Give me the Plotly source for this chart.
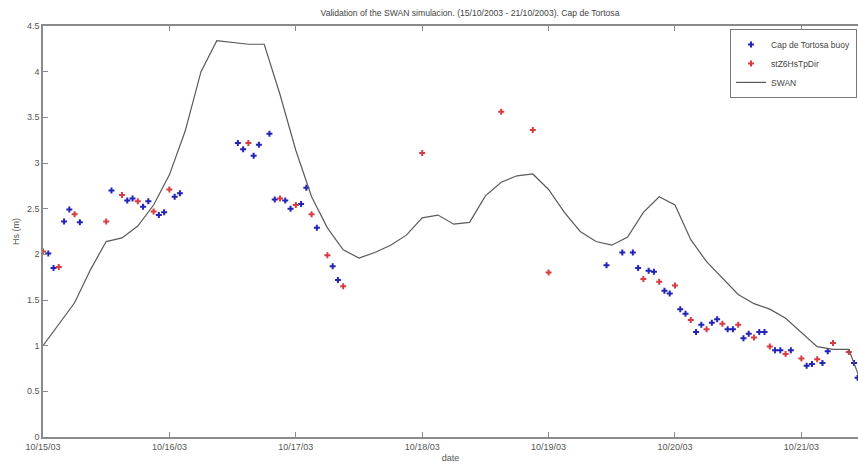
import plotly.graph_objects as go

# ---- data ----
buoy_time = [
    "2003-10-15 01:00", "2003-10-15 02:00", "2003-10-15 04:00", "2003-10-15 05:00", "2003-10-15 07:00",
    "2003-10-15 13:00", "2003-10-15 16:00", "2003-10-15 17:00", "2003-10-15 19:00", "2003-10-15 20:00",
    "2003-10-15 22:00", "2003-10-15 23:00", "2003-10-16 01:00", "2003-10-16 02:00",
    "2003-10-16 13:00", "2003-10-16 14:00", "2003-10-16 16:00", "2003-10-16 17:00", "2003-10-16 19:00",
    "2003-10-16 20:00", "2003-10-16 22:00", "2003-10-16 23:00", "2003-10-17 01:00", "2003-10-17 02:00",
    "2003-10-17 04:00", "2003-10-17 07:00", "2003-10-17 08:00",
    "2003-10-19 11:00", "2003-10-19 14:00", "2003-10-19 16:00", "2003-10-19 17:00", "2003-10-19 19:00",
    "2003-10-19 20:00", "2003-10-19 22:00", "2003-10-19 23:00", "2003-10-20 01:00", "2003-10-20 02:00",
    "2003-10-20 04:00", "2003-10-20 05:00", "2003-10-20 07:00", "2003-10-20 08:00", "2003-10-20 10:00",
    "2003-10-20 11:00", "2003-10-20 13:00", "2003-10-20 14:00", "2003-10-20 16:00", "2003-10-20 17:00",
    "2003-10-20 19:00", "2003-10-20 20:00", "2003-10-20 22:00", "2003-10-21 01:00", "2003-10-21 02:00",
    "2003-10-21 04:00", "2003-10-21 05:00", "2003-10-21 10:00", "2003-10-21 10:40",
]
buoy_hs = [
    2.01, 1.85, 2.36, 2.49, 2.35,
    2.70, 2.59, 2.61, 2.52, 2.58,
    2.43, 2.46, 2.63, 2.67,
    3.22, 3.15, 3.08, 3.20, 3.32,
    2.60, 2.59, 2.50, 2.55, 2.73,
    2.29, 1.87, 1.72,
    1.88, 2.02, 2.02, 1.85, 1.82,
    1.81, 1.60, 1.57, 1.40, 1.35,
    1.15, 1.23, 1.25, 1.29, 1.18,
    1.18, 1.08, 1.13, 1.15, 1.15,
    0.95, 0.95, 0.95, 0.78, 0.80,
    0.81, 0.94, 0.81, 0.65,
]

st_time = [
    "2003-10-15 00:00", "2003-10-15 03:00", "2003-10-15 06:00", "2003-10-15 12:00", "2003-10-15 15:00",
    "2003-10-15 18:00", "2003-10-15 21:00", "2003-10-16 00:00", "2003-10-16 15:00", "2003-10-16 21:00",
    "2003-10-17 00:00", "2003-10-17 03:00", "2003-10-17 06:00", "2003-10-17 09:00", "2003-10-18 00:00",
    "2003-10-18 15:00", "2003-10-18 21:00", "2003-10-19 00:00", "2003-10-19 18:00", "2003-10-19 21:00",
    "2003-10-20 00:00", "2003-10-20 03:00", "2003-10-20 06:00", "2003-10-20 09:00", "2003-10-20 12:00",
    "2003-10-20 15:00", "2003-10-20 18:00", "2003-10-20 21:00", "2003-10-21 00:00", "2003-10-21 03:00",
    "2003-10-21 06:00", "2003-10-21 09:00",
]
st_hs = [
    2.03, 1.86, 2.44, 2.36, 2.65,
    2.58, 2.47, 2.71, 3.22, 2.61,
    2.54, 2.44, 1.99, 1.65, 3.11,
    3.56, 3.36, 1.80, 1.73, 1.70,
    1.66, 1.28, 1.18, 1.24, 1.23,
    1.09, 0.99, 0.91, 0.86, 0.85,
    1.03, 0.93,
]

swan_time = [
    "2003-10-15 00:00", "2003-10-15 03:00", "2003-10-15 06:00", "2003-10-15 09:00", "2003-10-15 12:00",
    "2003-10-15 15:00", "2003-10-15 18:00", "2003-10-15 21:00", "2003-10-16 00:00", "2003-10-16 03:00",
    "2003-10-16 06:00", "2003-10-16 09:00", "2003-10-16 12:00", "2003-10-16 15:00", "2003-10-16 18:00",
    "2003-10-16 21:00", "2003-10-17 00:00", "2003-10-17 03:00", "2003-10-17 06:00", "2003-10-17 09:00",
    "2003-10-17 12:00", "2003-10-17 15:00", "2003-10-17 18:00", "2003-10-17 21:00", "2003-10-18 00:00",
    "2003-10-18 03:00", "2003-10-18 06:00", "2003-10-18 09:00", "2003-10-18 12:00", "2003-10-18 15:00",
    "2003-10-18 18:00", "2003-10-18 21:00", "2003-10-19 00:00", "2003-10-19 03:00", "2003-10-19 06:00",
    "2003-10-19 09:00", "2003-10-19 12:00", "2003-10-19 15:00", "2003-10-19 18:00", "2003-10-19 21:00",
    "2003-10-20 00:00", "2003-10-20 03:00", "2003-10-20 06:00", "2003-10-20 09:00", "2003-10-20 12:00",
    "2003-10-20 15:00", "2003-10-20 18:00", "2003-10-20 21:00", "2003-10-21 00:00", "2003-10-21 03:00",
    "2003-10-21 06:00", "2003-10-21 09:00", "2003-10-21 12:00",
]
swan_hs = [
    1.00, 1.23, 1.47, 1.83, 2.14,
    2.18, 2.31, 2.54, 2.87, 3.35,
    4.00, 4.34, 4.32, 4.30, 4.30,
    3.75, 3.14, 2.63, 2.29, 2.05,
    1.96, 2.02, 2.10, 2.21, 2.40,
    2.43, 2.33, 2.35, 2.64, 2.79,
    2.86, 2.88, 2.71, 2.46, 2.25,
    2.14, 2.10, 2.19, 2.46, 2.63,
    2.54, 2.16, 1.92, 1.74, 1.56,
    1.46, 1.40, 1.30, 1.14, 0.99,
    0.96, 0.96, 0.50,
]

tick_dates = ["2003-10-15", "2003-10-16", "2003-10-17", "2003-10-18",
              "2003-10-19", "2003-10-20", "2003-10-21"]
tick_labels = ["10/15/03", "10/16/03", "10/17/03", "10/18/03",
               "10/19/03", "10/20/03", "10/21/03"]

FONT = "Liberation Sans Narrow, Liberation Sans, Arial, sans-serif"
AX = "#8a8a8a"
TXT = "#555555"

fig = go.Figure()
fig.add_trace(go.Scatter(
    x=buoy_time, y=buoy_hs, mode="markers", name="Cap de Tortosa buoy",
    marker=dict(symbol="cross", size=5, color="#2323b8", line=dict(width=0)),
))
fig.add_trace(go.Scatter(
    x=st_time, y=st_hs, mode="markers", name="stZ6HsTpDir",
    marker=dict(symbol="cross", size=5, color="#d83c40", line=dict(width=0)),
))
fig.add_trace(go.Scatter(
    x=swan_time, y=swan_hs, mode="lines", name="SWAN",
    line=dict(color="#5a5a5a", width=1.2),
))

fig.update_layout(
    width=858, height=466,
    margin=dict(l=43, r=0, t=26, b=29, autoexpand=False),
    paper_bgcolor="white", plot_bgcolor="white",
    font=dict(family=FONT, size=9, color=TXT),
    title=dict(text="Validation of the SWAN simulacion. (15/10/2003 - 21/10/2003). Cap de Tortosa",
               x=470 / 858, xanchor="center", y=1 - 13 / 466, yanchor="middle",
               font=dict(family=FONT, size=8.6, color="#444444")),
    legend=dict(x=0.9988, xanchor="right", y=0.993, yanchor="top",
                bgcolor="white", bordercolor="#777777", borderwidth=1,
                font=dict(family=FONT, size=8.5, color="#444444"),
                itemwidth=30, tracegroupgap=0),
    showlegend=True,
)
fig.update_xaxes(
    type="date", range=["2003-10-15 00:00", "2003-10-21 10:45"],
    tickmode="array", tickvals=tick_dates, ticktext=tick_labels,
    ticks="inside", ticklen=5, tickcolor=AX, showline=True, linecolor=AX, linewidth=1.5,
    mirror="ticks", showgrid=False, zeroline=False, automargin=False,
    ticklabelstandoff=0,
    title=dict(text="date", standoff=4, font=dict(size=9, color=TXT)),
    tickfont=dict(size=9, color=TXT),
)
fig.update_yaxes(
    range=[0, 4.5], dtick=0.5, tick0=0,
    ticks="inside", ticklen=5, tickcolor=AX, showline=True, linecolor=AX, linewidth=1.5,
    showgrid=False, zeroline=False, automargin=False,
    title=dict(text="Hs (m)", standoff=6, font=dict(size=9, color=TXT)),
    tickfont=dict(size=9, color=TXT),
)

fig.write_html("out.html", config={"displayModeBar": False},
               post_script="document.body.style.margin='0';document.body.style.overflow='hidden';")
